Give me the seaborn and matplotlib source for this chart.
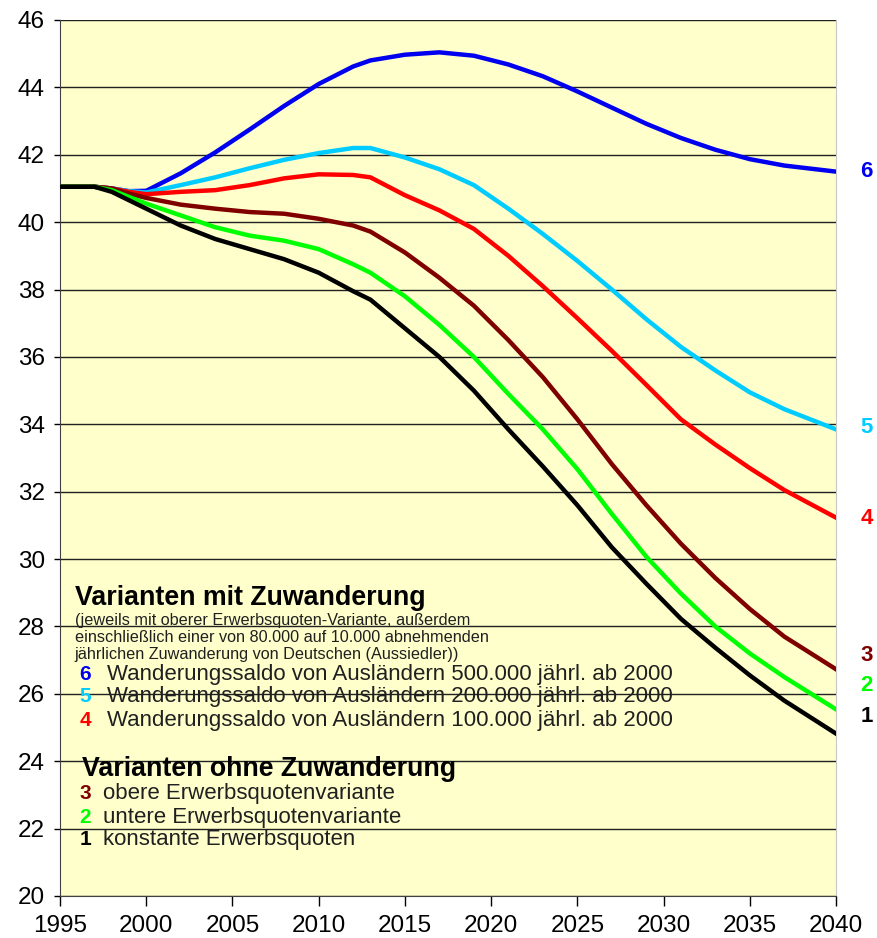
import pandas as pd
import matplotlib.pyplot as plt
import seaborn as sns

# Data
years = [1995, 1997, 1998, 1999, 2000, 2002, 2004, 2006, 2008, 2010, 2012, 2013,
         2015, 2017, 2019, 2021, 2023, 2025, 2027, 2029, 2031, 2033, 2035, 2037, 2040]

v6 = [41.05, 41.05, 41.0, 40.92, 40.93, 41.45, 42.07, 42.75, 43.45, 44.1, 44.62, 44.8,
      44.97, 45.04, 44.94, 44.68, 44.33, 43.88, 43.4, 42.92, 42.5, 42.15, 41.87, 41.68, 41.5]
v5 = [41.05, 41.05, 41.0, 40.92, 40.88, 41.1, 41.33, 41.6, 41.85, 42.05, 42.2, 42.2,
      41.92, 41.57, 41.1, 40.4, 39.65, 38.85, 38.0, 37.12, 36.3, 35.6, 34.95, 34.45, 33.85]
v4 = [41.05, 41.05, 41.0, 40.9, 40.83, 40.9, 40.95, 41.1, 41.3, 41.42, 41.4, 41.33,
      40.8, 40.35, 39.8, 39.0, 38.1, 37.15, 36.18, 35.17, 34.15, 33.4, 32.7, 32.05, 31.23]
v3 = [41.05, 41.05, 41.0, 40.85, 40.72, 40.52, 40.4, 40.3, 40.25, 40.1, 39.9, 39.72,
      39.1, 38.35, 37.52, 36.5, 35.4, 34.15, 32.82, 31.6, 30.46, 29.44, 28.52, 27.7, 26.73]
v2 = [41.05, 41.05, 40.95, 40.75, 40.55, 40.2, 39.85, 39.6, 39.45, 39.2, 38.75, 38.5,
      37.8, 36.95, 36.0, 34.9, 33.85, 32.67, 31.34, 30.07, 28.98, 28.0, 27.2, 26.5, 25.54]
v1 = [41.05, 41.05, 40.9, 40.65, 40.4, 39.9, 39.5, 39.2, 38.9, 38.5, 37.95, 37.7,
      36.85, 36.0, 35.0, 33.85, 32.75, 31.6, 30.35, 29.27, 28.23, 27.37, 26.55, 25.8, 24.82]

variants = ["6", "5", "4", "3", "2", "1"]
colors = {"6": "#0000F0", "5": "#00CCFF", "4": "#FF0000",
          "3": "#800000", "2": "#00FF00", "1": "#000000"}
end_label_y = {"6": 41.5, "5": 33.9, "4": 31.2, "3": 27.15, "2": 26.26, "1": 25.34}

mit_title = "Varianten mit Zuwanderung"
mit_note = ["(jeweils mit oberer Erwerbsquoten-Variante, außerdem",
            "einschließlich einer von 80.000 auf 10.000 abnehmenden",
            "jährlichen Zuwanderung von Deutschen (Aussiedler))"]
mit_items = [("6", "Wanderungssaldo von Ausländern 500.000 jährl. ab 2000"),
             ("5", "Wanderungssaldo von Ausländern 200.000 jährl. ab 2000"),
             ("4", "Wanderungssaldo von Ausländern 100.000 jährl. ab 2000")]
ohne_title = "Varianten ohne Zuwanderung"
ohne_items = [("3", "obere Erwerbsquotenvariante"),
              ("2", "untere Erwerbsquotenvariante"),
              ("1", "konstante Erwerbsquoten")]

series = {"6": v6, "5": v5, "4": v4, "3": v3, "2": v2, "1": v1}
df = pd.concat(
    [pd.DataFrame({"Jahr": years, "Wert": series[k], "Variante": k}) for k in variants],
    ignore_index=True
)

plt.rcParams["font.family"] = ["Liberation Sans", "DejaVu Sans"]

fig = plt.figure(figsize=(8.77, 9.38), dpi=100)
ax = fig.add_axes([60 / 877, 42 / 938, 776 / 877, 876 / 938])
ax.set_facecolor("#FFFFCC")

sns.lineplot(
    data=df,
    x="Jahr",
    y="Wert",
    hue="Variante",
    hue_order=variants,
    palette=colors,
    linewidth=3.2,
    legend=False,
    ax=ax,
    zorder=3
)

ax.set_xlim(1995, 2040)
ax.set_ylim(20, 46)
ax.set_xticks(range(1995, 2041, 5))
ax.set_yticks(range(20, 47, 2))
ax.set_xlabel("")
ax.set_ylabel("")
ax.yaxis.grid(True, color="#202020", linewidth=1)
ax.set_axisbelow(True)
ax.tick_params(axis="x", direction="out", length=7, width=1, labelsize=17.5, pad=7)
ax.tick_params(axis="y", direction="out", length=4, width=1, labelsize=17.5, pad=7)

ax.spines["top"].set_visible(False)
ax.spines["right"].set_color("#C8C8C8")
ax.spines["left"].set_color("#404040")
ax.spines["bottom"].set_color("#404040")

# End labels right of the plot
for k in variants:
    ax.text(2041.4, end_label_y[k], k, color=colors[k], fontsize=16,
            fontweight="bold", va="center", ha="left", clip_on=False)

# Text block: Varianten mit Zuwanderung
ax.text(1995.85, 28.64, mit_title, fontsize=19.3, fontweight="bold",
        va="baseline", zorder=4)
note_y = [28.04, 27.53, 27.03]
for line, yy in zip(mit_note, note_y):
    ax.text(1995.85, yy, line, fontsize=11.7, color="#202020", va="baseline", zorder=4)
item_y = [26.41, 25.77, 25.06]
for (num, label), yy in zip(mit_items, item_y):
    ax.text(1996.45, yy, num, color=colors[num], fontsize=15, fontweight="bold",
            va="baseline", ha="center", zorder=4)
    ax.text(1997.75, yy, label, fontsize=16, color="#202020", va="baseline", zorder=4)

# Text block: Varianten ohne Zuwanderung
ax.text(1996.3, 23.56, ohne_title, fontsize=19.3, fontweight="bold",
        va="baseline", zorder=4)
ohne_y = [22.87, 22.18, 21.51]
for (num, label), yy in zip(ohne_items, ohne_y):
    ax.text(1996.48, yy, num, color=colors[num], fontsize=15, fontweight="bold",
            va="baseline", ha="center", zorder=4)
    ax.text(1997.5, yy, label, fontsize=16, color="#202020", va="baseline", zorder=4)

fig.savefig("out.png", dpi=100, facecolor="white")
plt.close()
